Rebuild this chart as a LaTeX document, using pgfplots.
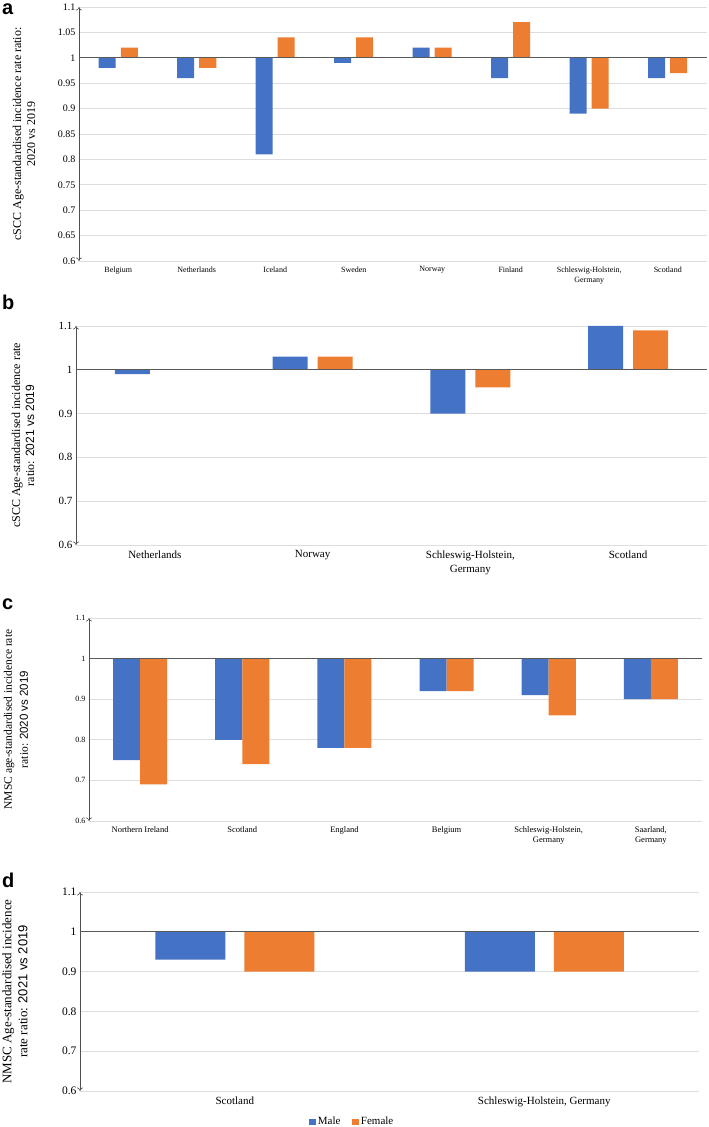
\documentclass[border=0pt]{standalone}
\usepackage{fontspec}
\setmainfont{Liberation Serif}
\newfontfamily\sansf{Liberation Sans}
\usepackage{pgfplots}
\usepackage{pgfplotstable}
\pgfplotsset{compat=1.18}
\usetikzlibrary{arrows.meta}
\definecolor{maleblue}{HTML}{4472C4}
\definecolor{femaleorange}{HTML}{ED7D31}
\definecolor{gridgray}{HTML}{DDDDDD}
\definecolor{basegray}{HTML}{595959}
\definecolor{axisgray}{HTML}{505050}

\pgfplotstableread{
x M F
0 0.98 1.02
1 0.96 0.98
2 0.81 1.04
3 0.99 1.04
4 1.02 1.02
5 0.96 1.07
6 0.89 0.90
7 0.96 0.97
}\dataA
\pgfplotstableread{
x M F
0 0.99 1.00
1 1.03 1.03
2 0.90 0.96
3 1.10 1.09
}\dataB
\pgfplotstableread{
x M F
0 0.75 0.69
1 0.80 0.74
2 0.78 0.78
3 0.92 0.92
4 0.91 0.86
5 0.90 0.90
}\dataC
\pgfplotstableread{
x M F
0 0.93 0.90
1 0.90 0.90
}\dataD

\pgfplotsset{
  panel/.style={
    scale only axis, ybar, enlargelimits=false, clip=false,
    anchor=south west,
    axis line style={draw=none}, major tick length=0pt,
    ymin=-0.4, ymax=0.1,
    ymajorgrids, grid style={draw=gridgray, line width=0.6pt},
    /pgf/number format/assume math mode=true,
    xticklabel style={align=center, anchor=north},
    ylabel style={anchor=center, align=center},
  },
  ticks01/.style={ytick={-0.4,-0.3,-0.2,-0.1,0,0.1},
    yticklabels={0.6,0.7,0.8,0.9,1,1.1}},
}
\newcommand{\arrowaxis}[1]{%
  \draw[axisgray, line width=0.6pt, {To[length=3.5pt,width=6pt]}-{To[length=3.5pt,width=6pt]}]
    (axis cs:-0.5,-0.4) -- (axis cs:-0.5,0.1);
  \draw[basegray, line width=0.9pt] (axis cs:-0.5,0) -- (axis cs:#1,0);}

\begin{document}
\begin{tikzpicture}
\useasboundingbox (0,0) rectangle (709pt,1127pt);

% ---------- panel a ----------
\begin{axis}[panel, at={(79pt,866pt)}, width=628pt, height=254pt,
  xmin=-0.5, xmax=7.5, xtick={0,...,7},
  xticklabels={Belgium,Netherlands,Iceland,Sweden,Norway,Finland,{Schleswig-Holstein,\\Germany},Scotland},
  ytick={-0.4,-0.35,-0.3,-0.25,-0.2,-0.15,-0.1,-0.05,0,0.05,0.1},
  yticklabels={0.6,0.65,0.7,0.75,0.8,0.85,0.9,0.95,1,1.05,1.1},
  yticklabel style={font=\fontsize{10}{12}\selectfont},
  xticklabel style={font=\fontsize{8}{10}\selectfont, yshift=-2pt},
  ylabel={cSCC Age-standardised incidence rate ratio:\\2020 vs 2019},
  ylabel style={at={(axis description cs:-0.0876,0.5)}, font=\fontsize{12}{14}\selectfont}]
\addplot[fill=maleblue, draw=none, bar width=17pt, bar shift=-11pt] table[x=x, y expr=\thisrow{M}-1] {\dataA};
\addplot[fill=femaleorange, draw=none, bar width=17pt, bar shift=11pt] table[x=x, y expr=\thisrow{F}-1] {\dataA};
\arrowaxis{7.5}
\end{axis}

% ---------- panel b ----------
\begin{axis}[panel, ticks01, at={(76pt,582pt)}, width=631pt, height=219pt,
  xmin=-0.5, xmax=3.5, xtick={0,...,3},
  xticklabels={Netherlands,Norway,{Schleswig-Holstein,\\Germany},Scotland},
  yticklabel style={font=\fontsize{11}{13}\selectfont},
  xticklabel style={font=\fontsize{11}{14}\selectfont, yshift=-2pt},
  ylabel={cSCC Age-standardised incidence rate\\ratio: {\sansf 2021 vs 2019}},
  ylabel style={at={(axis description cs:-0.084,0.5)}, font=\fontsize{12}{14}\selectfont}]
\addplot[fill=maleblue, draw=none, bar width=35pt, bar shift=-22.5pt] table[x=x, y expr=\thisrow{M}-1] {\dataB};
\addplot[fill=femaleorange, draw=none, bar width=35pt, bar shift=22.5pt] table[x=x, y expr=\thisrow{F}-1] {\dataB};
\arrowaxis{3.5}
\end{axis}

% ---------- panel c ----------
\begin{axis}[panel, ticks01, at={(89pt,306pt)}, width=613pt, height=203pt,
  xmin=-0.5, xmax=5.5, xtick={0,...,5},
  xticklabels={Northern Ireland,Scotland,England,Belgium,{Schleswig-Holstein,\\Germany},{Saarland,\\Germany}},
  yticklabel style={font=\fontsize{8}{10}\selectfont},
  xticklabel style={font=\fontsize{8.5}{10}\selectfont, yshift=-2pt},
  ylabel={NMSC age-standardised incidence rate\\ratio: {\sansf 2020 vs 2019}},
  ylabel style={at={(axis description cs:-0.119,0.5)}, font=\fontsize{11.5}{16}\selectfont}]
\addplot[fill=maleblue, draw=none, bar width=27pt, bar shift=-13.5pt] table[x=x, y expr=\thisrow{M}-1] {\dataC};
\addplot[fill=femaleorange, draw=none, bar width=27pt, bar shift=13.5pt] table[x=x, y expr=\thisrow{F}-1] {\dataC};
\arrowaxis{5.5}
\end{axis}

% ---------- panel d ----------
\begin{axis}[panel, ticks01, at={(80pt,36pt)}, width=619pt, height=199pt,
  xmin=-0.5, xmax=1.5, xtick={0,1},
  xticklabels={Scotland,{Schleswig-Holstein, Germany}},
  yticklabel style={font=\fontsize{11.5}{13}\selectfont},
  xticklabel style={font=\fontsize{11}{13}\selectfont, yshift=-2pt},
  ylabel={NMSC Age-standardised incidence\\rate ratio: {\sansf 2021 vs 2019}},
  ylabel style={at={(axis description cs:-0.105,0.5)}, font=\fontsize{13}{16}\selectfont},
  legend style={at={(0.44,-0.155)}, anchor=center, draw=none, fill=none,
    legend columns=2, font=\fontsize{11}{13}\selectfont,
    /tikz/every even column/.append style={column sep=10pt},
    legend cell align=left},
  legend image code/.code={\fill[#1] (0pt,-3.2pt) rectangle (6.5pt,3.2pt);}]
\addplot[fill=maleblue, draw=none, bar width=70pt, bar shift=-44.5pt] table[x=x, y expr=\thisrow{M}-1] {\dataD};
\addlegendentry{Male}
\addplot[fill=femaleorange, draw=none, bar width=70pt, bar shift=44.5pt] table[x=x, y expr=\thisrow{F}-1] {\dataD};
\addlegendentry{Female}
\arrowaxis{1.5}
\end{axis}

% panel letters
\node[anchor=base west, font=\sansf\bfseries\fontsize{20}{20}\selectfont, inner sep=0pt] at (2pt,1112pt) {a};
\node[anchor=base west, font=\sansf\bfseries\fontsize{20}{20}\selectfont, inner sep=0pt] at (2pt,817pt) {b};
\node[anchor=base west, font=\sansf\bfseries\fontsize{20}{20}\selectfont, inner sep=0pt] at (2pt,517pt) {c};
\node[anchor=base west, font=\sansf\bfseries\fontsize{20}{20}\selectfont, inner sep=0pt] at (2pt,239pt) {d};
\end{tikzpicture}
\end{document}
